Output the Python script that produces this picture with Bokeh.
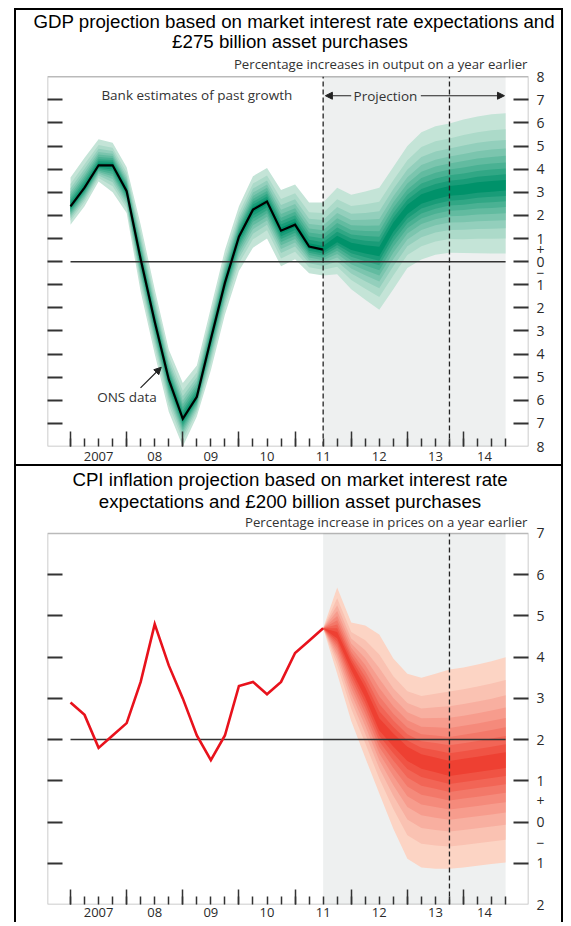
from bokeh.plotting import figure
from bokeh.models import (Range1d, LinearAxis, FixedTicker, BoxAnnotation, Title,
                          Arrow, NormalHead, Label)
from bokeh.layouts import column
from bokeh.embed import file_html
from bokeh.resources import INLINE

# ---------------- data ----------------
# one x position per quarter, 2007 Q1 ... 2014 Q4 (start of quarter, in years)
quarters = [2007 + q / 4 for q in range(32)]
n_hist = 19                      # outturns 2007 Q1 .. 2011 Q3
proj_start = 2011.5
two_years_ahead = 2013.75

year_ticks = [2007, 2008, 2009, 2010, 2011, 2012, 2013, 2014]
year_label_pos = [2007.5, 2008.5, 2009.5, 2010.5, 2011.5, 2012.5, 2013.5, 2014.375]
year_labels = ["2007", "08", "09", "10", "11", "12", "13", "14"]

# GDP growth (% on a year earlier)
gdp_ons = [2.39, 3.2, 4.17, 4.17, 3.05, 0.1, -2.6, -5.1, -6.8, -5.85, -3.35, -0.92,
           1.08, 2.25, 2.6, 1.34, 1.6, 0.65, 0.52]
gdp_proj_mode = [0.95, 0.65, 0.52, 0.43, 1.5, 2.25, 2.7, 2.9, 3.05, 3.1, 3.2, 3.25, 3.3]
gdp_upper90 = [3.64, 4.5, 5.3, 5.15, 4.08, 1.6, -1.2, -3.8, -5.25, -4.5, -2.0, 0.5,
               2.4, 3.7, 4.05, 3.1, 3.34, 2.56, 2.56,
               3.2, 2.9, 3.04, 3.2, 4.1, 5.0, 5.6, 5.86, 5.98, 6.15, 6.28, 6.38, 6.42]
gdp_lower90 = [1.6, 2.4, 3.47, 3.0, 2.1, -1.3, -4.0, -6.5, -8.0, -6.7, -4.7, -2.3,
               -0.4, 0.6, 1.0, -0.2, 0.1, -0.5, -0.6,
               -0.55, -1.2, -1.65, -2.08, -1.2, -0.27, 0.09, 0.3, 0.39, 0.37, 0.36, 0.35, 0.35]

# CPI inflation (% on a year earlier)
cpi_outturn = [2.9, 2.6, 1.8, 2.1, 2.4, 3.4, 4.8, 3.8, 3.0, 2.1, 1.5, 2.1,
               3.3, 3.4, 3.1, 3.4, 4.1, 4.4, 4.7]
cpi_mode = [4.7, 4.52, 3.8, 3.14, 2.35, 2.0, 1.68, 1.49, 1.4, 1.3, 1.35, 1.4, 1.45, 1.5]
cpi_upper90 = [4.7, 5.69, 4.84, 4.77, 4.55, 3.97, 3.6, 3.5, 3.6, 3.7, 3.75, 3.82, 3.9, 4.0]
cpi_lower90 = [4.7, 3.6, 2.45, 1.56, 0.69, -0.16, -0.89, -1.1, -1.13, -1.13, -1.1,
               -1.06, -1.02, -0.98]
inflation_target = 2

# fan bands: central coverage 90%, 80%, ... 10% (normal quantiles)
band_z = [1.6449, 1.2816, 1.0364, 0.8416, 0.6745, 0.5244, 0.3853, 0.2533, 0.1257]
gdp_colors = ["#c4e4d7", "#acdac9", "#93cfbc", "#7bc5ae", "#62bba0",
              "#4ab193", "#31a785", "#199c78", "#00926a"]
cpi_colors = ["#fcd4c4", "#fac2b2", "#f8afa0", "#f79c8d", "#f58a7b",
              "#f37869", "#f26556", "#f05344", "#ee4032"]

FONT = "Open Sans"
TFONT = "Liberation Sans"
TSIZE = "18.7px"
INK = "#2a2a2a"
X0, X1 = 2006.59, 2015.158


def draw_fan(p, xs, mode, lo90, hi90, colors):
    for z, col in zip(band_z, colors):
        f = z / band_z[0]
        lo = [m - f * (m - l) for m, l in zip(mode, lo90)]
        hi = [m + f * (h - m) for m, h in zip(mode, hi90)]
        p.varea(x=xs, y1=lo, y2=hi, fill_color=col, fill_alpha=1.0)


def make_panel(height, ylo, yhi, ytop, styles, mbt, mbb, year_standoff):
    # the frame also holds part of the title area; the chart box spans ylo..yhi
    p = figure(width=549, height=height,
               x_range=Range1d(X0, X1), y_range=Range1d(ylo, ytop),
               output_backend="svg", toolbar_location=None,
               min_border_left=31, min_border_right=37, min_border_top=mbt,
               min_border_bottom=mbb,
               background_fill_color="white", border_fill_color="white",
               outline_line_color=None, styles=styles)
    p.xgrid.visible = False
    p.ygrid.visible = False

    ints = list(range(ylo + 1, yhi))
    # left axis: inner ticks only
    ya = p.yaxis[0]
    ya.ticker = FixedTicker(ticks=ints)
    ya.major_tick_in = 15
    ya.major_tick_out = 0
    ya.major_tick_line_color = "#333"
    ya.major_tick_line_width = 1.8
    ya.minor_tick_line_color = None
    ya.axis_line_color = None
    ya.major_label_overrides = {v: "" for v in ints}
    ya.major_label_text_font_size = "1px"
    ya.major_label_standoff = 0

    # right axis: labels (with + / − signs) and inner ticks
    label_pos = list(range(ylo, yhi + 1)) + [0.5, -0.5]
    overrides = {v: str(abs(v)) for v in range(ylo, yhi + 1)}
    overrides[0.5] = "+"
    overrides[-0.5] = "\u2212"
    yr_ax = LinearAxis(ticker=FixedTicker(ticks=label_pos, minor_ticks=ints),
                       major_label_overrides=overrides,
                       major_tick_in=0, major_tick_out=0,
                       minor_tick_in=15, minor_tick_out=0,
                       minor_tick_line_color="#333", minor_tick_line_width=1.8,
                       axis_line_color=None, major_label_standoff=8,
                       major_label_text_font=FONT, major_label_text_font_size="14px",
                       major_label_text_color=INK)
    p.add_layout(yr_ax, "right")

    # bottom axis: year and quarter ticks
    xa = p.xaxis[0]
    xa.ticker = FixedTicker(ticks=year_ticks, minor_ticks=quarters)
    xa.major_tick_in = 15
    xa.major_tick_out = 0
    xa.minor_tick_in = 8
    xa.minor_tick_out = 0
    xa.major_tick_line_color = "#333"
    xa.minor_tick_line_color = "#333"
    xa.major_tick_line_width = 1.5
    xa.minor_tick_line_width = 1.5
    xa.axis_line_color = None
    xa.major_label_overrides = {v: "" for v in year_ticks}
    xa.major_label_text_font_size = "1px"
    xa.major_label_standoff = 0

    # year labels centred in each year
    xb = LinearAxis(ticker=FixedTicker(ticks=year_label_pos),
                    major_label_overrides=dict(zip(year_label_pos, year_labels)),
                    major_tick_in=0, major_tick_out=0, minor_tick_line_color=None,
                    axis_line_color=None, major_label_standoff=year_standoff,
                    major_label_text_font=FONT, major_label_text_font_size="13px",
                    major_label_text_color=INK)
    p.add_layout(xb, "below")

    # projection shading
    p.add_layout(BoxAnnotation(left=proj_start, right=quarters[-1], top=yhi, bottom=ylo,
                               fill_color="#eef0f0", fill_alpha=1.0,
                               line_color=None, level="underlay"))
    # chart box
    p.add_layout(BoxAnnotation(left=X0, right=X1, top=yhi, bottom=ylo,
                               fill_alpha=0, line_color="#1a1a1a", line_width=1.5))
    return p


def title_line(p, text, y):
    p.add_layout(Label(x=2010.91, y=y, text=text, text_font=TFONT,
                       text_font_size=TSIZE, text_color="black",
                       text_align="center", text_baseline="middle"))


def subtitle(p, text, y):
    p.add_layout(Label(x=2015.14, y=y, text=text, text_font=FONT,
                       text_font_size="13.2px", text_color="#333",
                       text_align="right", text_baseline="middle"))


def note(p, x, y, text, align="center"):
    p.add_layout(Label(x=x, y=y, text=text, text_font=FONT, text_font_size="13.5px",
                       text_color="#333", text_align=align, text_baseline="middle"))


def arrow(p, x0, y0, x1, y1):
    p.add_layout(Arrow(end=NormalHead(size=7, fill_color="#222", line_color="#222"),
                       x_start=x0, y_start=y0, x_end=x1, y_end=y1,
                       line_color="#222", line_width=1.2))


def dashed(p, loc, ylo, yhi):
    p.segment(x0=[loc], x1=[loc], y0=[ylo], y1=[yhi], line_color="#222",
              line_width=1.3, line_dash="5 3")


# ---------------- GDP panel ----------------
top = make_panel(458, -8, 8, 9.873, {"border": "2px solid black"}, 23, 22, 5)
# first title line is wider than the chart box: keep it in the title panel
top.add_layout(Title(text="GDP projection based on market interest rate expectations and",
                     align="left", offset=-14, vertical_align="top", standoff=0,
                     text_font=TFONT, text_font_size=TSIZE, text_font_style="normal",
                     text_color="black"), "above")
title_line(top, "\u00a3275 billion asset purchases", 9.52)
subtitle(top, "Percentage increases in output on a year earlier", 8.56)
draw_fan(top, quarters, gdp_ons + gdp_proj_mode, gdp_lower90, gdp_upper90, gdp_colors)
top.segment(x0=[quarters[0]], x1=[quarters[-1]], y0=[0], y1=[0],
            line_color="#333", line_width=1.5)
top.line(quarters[:n_hist], gdp_ons, line_color="black", line_width=2.2,
         line_join="miter")
for loc in (proj_start, two_years_ahead):
    dashed(top, loc, -8, 8)
note(top, 2009.25, 7.22, "Bank estimates of past growth")
note(top, 2012.61, 7.18, "Projection")
arrow(top, 2012.0, 7.18, 2011.54, 7.18)
arrow(top, 2013.24, 7.18, 2014.73, 7.18)
note(top, 2007.475, -5.85, "ONS data", align="left")
arrow(top, 2008.247, -5.46, 2008.616, -4.57)

# ---------------- CPI panel ----------------
bottom = make_panel(456, -2, 7, 8.625,
                    {"border-left": "2px solid black", "border-right": "2px solid black"},
                    0, 18, 3)
title_line(bottom, "CPI inflation projection based on market interest rate", 8.31)
title_line(bottom, "expectations and \u00a3200 billion asset purchases", 7.776)
subtitle(bottom, "Percentage increase in prices on a year earlier", 7.29)
draw_fan(bottom, quarters[n_hist - 1:], cpi_mode, cpi_lower90, cpi_upper90, cpi_colors)
bottom.segment(x0=[quarters[0]], x1=[quarters[-1]], y0=[inflation_target],
               y1=[inflation_target], line_color="#333", line_width=1.5)
bottom.line(quarters[:n_hist], cpi_outturn, line_color="#e8121c", line_width=2.6,
            line_join="miter")
dashed(bottom, two_years_ahead, -2, 7)

layout = column(top, bottom, styles={"margin-left": "14px", "margin-top": "8px"})
open("out.html", "w").write(file_html(layout, INLINE))
